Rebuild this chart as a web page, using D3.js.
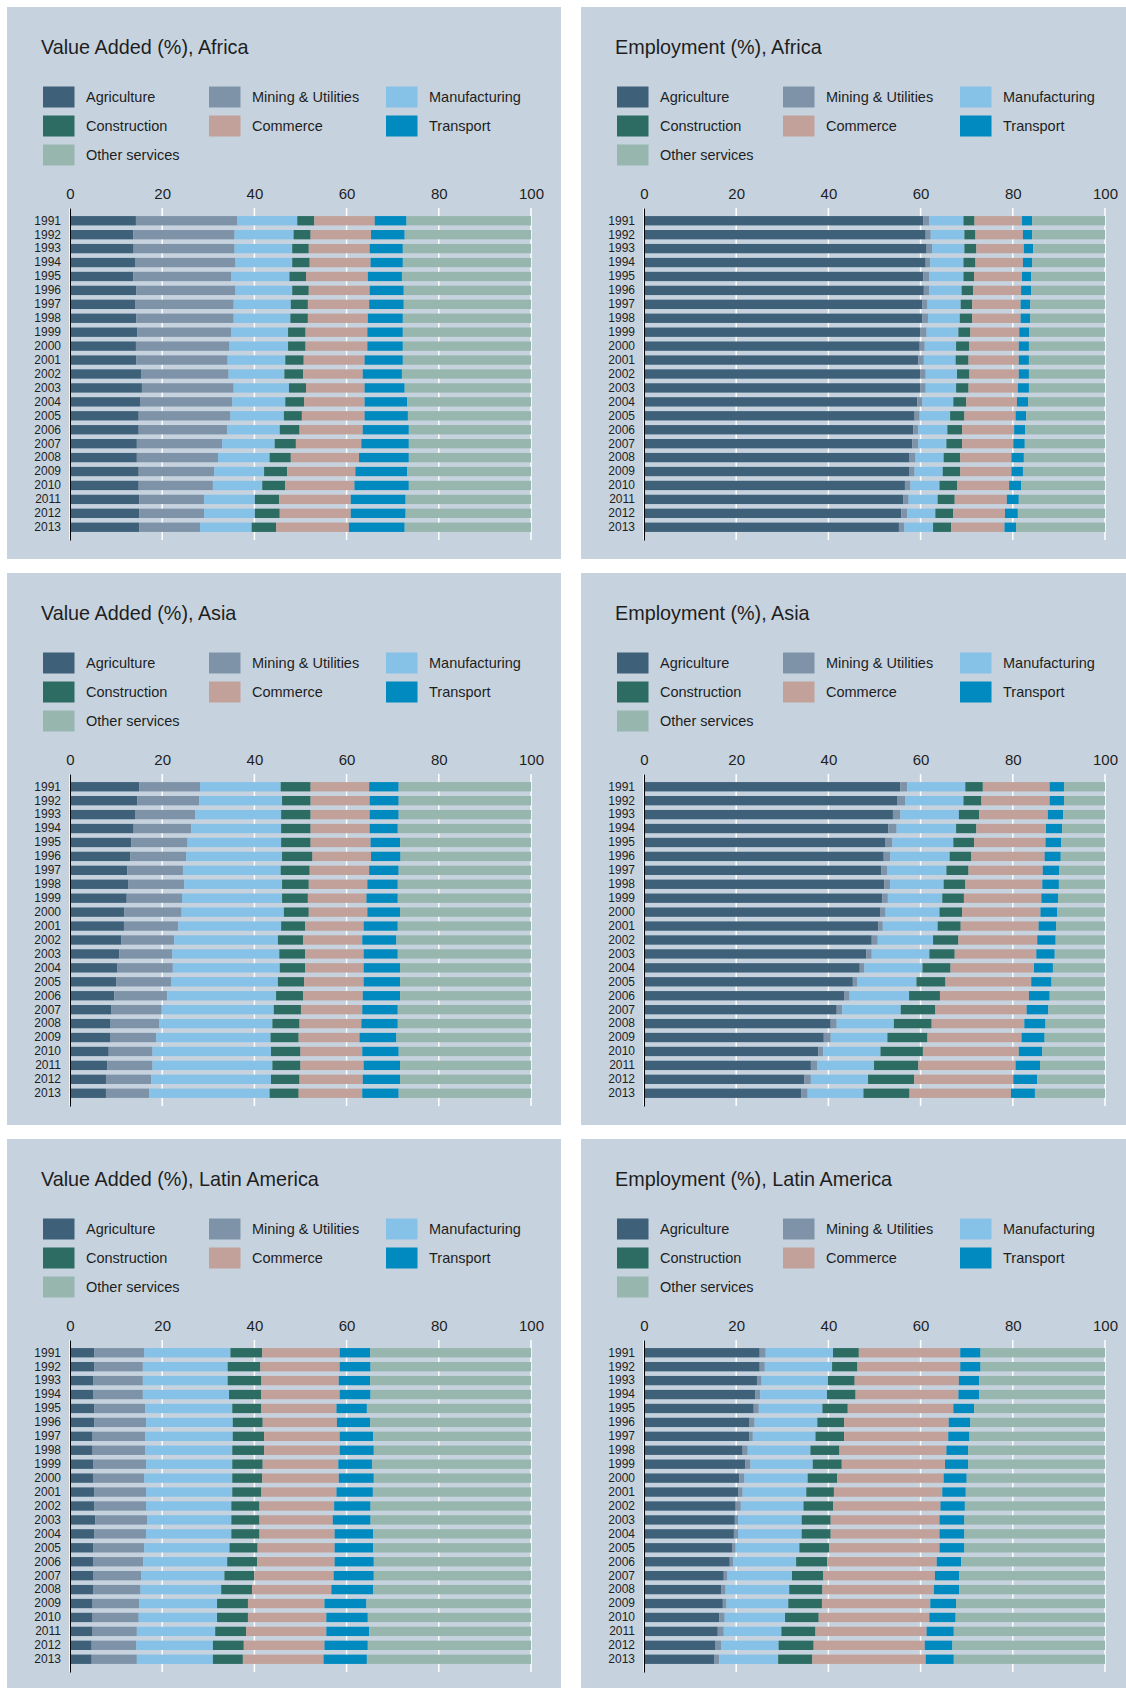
<!DOCTYPE html>
<html>
<head>
<meta charset="utf-8">
<script src="https://cdn.jsdelivr.net/npm/d3@7"></script>
<style>
body { margin: 0; background: #fff; }
svg { display: block; font-family: "Liberation Sans", Arial, sans-serif; }
</style>
</head>
<body>
<div id="chart"></div>
<script>
// Categories
var years = [1991, 1992, 1993, 1994, 1995, 1996, 1997, 1998, 1999, 2000, 2001, 2002,
             2003, 2004, 2005, 2006, 2007, 2008, 2009, 2010, 2011, 2012, 2013];
var sectors = ["Agriculture", "Mining & Utilities", "Manufacturing", "Construction",
               "Commerce", "Transport", "Other services"];
var xTicks = [0, 20, 40, 60, 80, 100];

// Shares (%) per year, one row per year, columns in the order of `sectors`
var vaAfrica = [
  [14.3, 22.0, 13.0, 3.7, 13.1, 6.9, 27.0],
  [13.7, 22.0, 12.8, 3.7, 13.1, 7.3, 27.4],
  [13.8, 21.9, 12.5, 3.6, 13.2, 7.2, 27.8],
  [14.1, 21.8, 12.3, 3.8, 13.2, 7.0, 27.8],
  [13.7, 21.3, 12.6, 3.6, 13.4, 7.4, 28.0],
  [14.4, 21.5, 12.3, 3.6, 13.2, 7.4, 27.6],
  [14.1, 21.4, 12.4, 3.7, 13.3, 7.5, 27.6],
  [14.4, 21.1, 12.3, 3.8, 13.0, 7.6, 27.8],
  [14.6, 20.4, 12.3, 3.8, 13.4, 7.7, 27.8],
  [14.3, 20.3, 12.7, 3.8, 13.4, 7.7, 27.8],
  [14.4, 19.8, 12.5, 4.0, 13.2, 8.3, 27.8],
  [15.5, 18.9, 12.1, 4.1, 12.9, 8.5, 28.0],
  [15.6, 19.9, 12.0, 3.7, 12.7, 8.7, 27.4],
  [15.3, 19.9, 11.5, 4.1, 13.1, 9.2, 26.9],
  [14.9, 19.9, 11.6, 3.9, 13.6, 9.4, 26.7],
  [14.9, 19.2, 11.4, 4.3, 13.7, 10.0, 26.5],
  [14.5, 18.5, 11.4, 4.6, 14.2, 10.3, 26.5],
  [14.5, 17.6, 11.2, 4.6, 14.8, 10.8, 26.5],
  [14.9, 16.4, 10.8, 5.0, 14.8, 11.2, 26.9],
  [14.9, 16.1, 10.7, 5.0, 15.0, 11.8, 26.5],
  [15.0, 14.1, 11.0, 5.3, 15.5, 11.9, 27.2],
  [15.0, 14.1, 11.0, 5.4, 15.4, 11.9, 27.2],
  [15.0, 13.2, 11.2, 5.3, 15.8, 12.1, 27.4]
];

var empAfrica = [
  [60.6, 1.3, 7.4, 2.4, 10.3, 2.2, 15.8],
  [61.1, 1.1, 7.3, 2.4, 10.3, 2.0, 15.8],
  [61.3, 1.2, 7.0, 2.6, 10.3, 2.0, 15.6],
  [61.1, 1.0, 7.2, 2.6, 10.3, 2.0, 15.8],
  [60.6, 1.3, 7.4, 2.3, 10.4, 2.0, 16.0],
  [60.7, 1.2, 7.0, 2.5, 10.4, 2.2, 16.0],
  [60.4, 1.1, 7.2, 2.5, 10.5, 2.1, 16.2],
  [60.4, 1.2, 6.9, 2.7, 10.5, 2.1, 16.2],
  [60.0, 1.3, 6.9, 2.6, 10.6, 2.2, 16.4],
  [59.8, 1.1, 6.8, 2.8, 10.8, 2.2, 16.5],
  [59.5, 1.2, 6.9, 2.8, 10.9, 2.2, 16.5],
  [60.0, 1.1, 6.8, 2.7, 10.7, 2.2, 16.5],
  [60.0, 1.1, 6.6, 2.7, 10.7, 2.4, 16.5],
  [59.3, 1.1, 6.7, 2.8, 11.0, 2.4, 16.7],
  [58.7, 1.1, 6.6, 3.1, 11.1, 2.3, 17.1],
  [58.4, 1.1, 6.3, 3.2, 11.3, 2.4, 17.3],
  [58.2, 1.3, 6.1, 3.4, 11.1, 2.5, 17.4],
  [57.6, 1.3, 6.1, 3.6, 11.1, 2.7, 17.6],
  [57.6, 1.1, 6.1, 3.8, 11.1, 2.5, 17.8],
  [56.6, 1.2, 6.3, 3.8, 11.3, 2.6, 18.2],
  [56.2, 1.2, 6.3, 3.7, 11.3, 2.6, 18.7],
  [55.8, 1.3, 6.1, 3.9, 11.2, 2.8, 18.9],
  [55.3, 1.2, 6.2, 3.9, 11.6, 2.5, 19.3]
];

var vaAsia = [
  [15.0, 13.2, 17.5, 6.5, 12.7, 6.4, 28.7],
  [14.6, 13.4, 18.0, 6.2, 12.8, 6.3, 28.7],
  [14.1, 13.1, 18.6, 6.4, 12.8, 6.3, 28.7],
  [13.8, 12.5, 19.5, 6.4, 12.8, 6.1, 28.9],
  [13.3, 12.2, 20.3, 6.4, 13.0, 6.4, 28.4],
  [13.1, 12.1, 20.8, 6.6, 12.7, 6.4, 28.3],
  [12.4, 12.1, 21.2, 6.3, 12.9, 6.4, 28.7],
  [12.6, 12.2, 21.2, 5.8, 12.7, 6.6, 28.9],
  [12.3, 12.0, 21.7, 5.6, 12.7, 6.8, 28.9],
  [11.8, 12.4, 22.2, 5.4, 12.7, 7.1, 28.4],
  [11.7, 11.8, 22.3, 5.2, 12.7, 7.4, 28.9],
  [11.1, 11.5, 22.5, 5.5, 12.8, 7.4, 29.2],
  [10.7, 11.5, 23.2, 5.6, 12.7, 7.4, 28.9],
  [10.3, 12.0, 23.2, 5.5, 12.7, 7.9, 28.4],
  [10.0, 12.0, 23.1, 5.7, 12.9, 7.9, 28.4],
  [9.6, 11.5, 23.6, 5.9, 12.9, 8.1, 28.4],
  [9.0, 10.9, 24.3, 5.9, 13.3, 7.7, 28.9],
  [8.8, 10.6, 24.5, 5.9, 13.4, 7.9, 28.9],
  [8.8, 9.9, 24.8, 6.1, 13.2, 8.0, 29.2],
  [8.4, 9.5, 25.7, 6.4, 13.4, 7.9, 28.7],
  [8.1, 9.8, 26.0, 6.1, 13.7, 7.9, 28.4],
  [7.8, 9.8, 26.0, 6.2, 13.7, 8.1, 28.4],
  [7.8, 9.4, 26.1, 6.3, 13.8, 7.9, 28.7]
];

var empAsia = [
  [55.6, 1.5, 12.6, 3.8, 14.5, 3.1, 8.9],
  [55.0, 1.7, 12.6, 3.9, 14.8, 3.1, 8.9],
  [54.0, 1.6, 12.7, 4.4, 14.9, 3.3, 9.1],
  [53.0, 1.8, 12.9, 4.4, 15.1, 3.5, 9.3],
  [52.4, 1.5, 13.2, 4.5, 15.5, 3.4, 9.5],
  [52.0, 1.4, 12.9, 4.7, 15.9, 3.5, 9.6],
  [51.5, 1.3, 12.8, 4.8, 16.1, 3.6, 9.9],
  [52.1, 1.3, 11.6, 4.7, 16.7, 3.6, 10.0],
  [51.7, 1.2, 11.8, 4.7, 16.8, 3.6, 10.2],
  [51.3, 1.1, 11.7, 4.9, 17.0, 3.6, 10.4],
  [50.8, 1.0, 11.9, 5.0, 16.9, 3.8, 10.6],
  [49.4, 1.3, 12.0, 5.5, 17.1, 4.0, 10.7],
  [48.2, 1.2, 12.5, 5.5, 17.7, 4.0, 10.9],
  [46.8, 1.0, 12.6, 6.1, 18.1, 4.1, 11.3],
  [45.3, 1.0, 12.8, 6.3, 18.6, 4.4, 11.6],
  [43.4, 1.2, 12.9, 6.7, 19.3, 4.5, 12.0],
  [41.8, 1.2, 12.7, 7.5, 19.8, 4.7, 12.3],
  [40.5, 1.3, 12.4, 8.2, 20.1, 4.6, 12.9],
  [39.0, 1.5, 12.3, 8.7, 20.4, 5.0, 13.1],
  [37.8, 1.1, 12.4, 9.2, 20.8, 5.1, 13.6],
  [36.2, 1.4, 12.3, 9.6, 21.1, 5.3, 14.1],
  [34.8, 1.4, 12.4, 10.0, 21.5, 5.2, 14.7],
  [34.1, 1.4, 12.1, 10.0, 22.0, 5.2, 15.2]
];

var vaLatAm = [
  [5.3, 10.8, 18.7, 6.9, 16.8, 6.6, 34.9],
  [5.3, 10.5, 18.4, 7.1, 17.2, 6.7, 34.8],
  [5.1, 10.7, 18.4, 7.3, 16.8, 6.8, 34.9],
  [5.1, 10.7, 18.7, 7.0, 17.0, 6.7, 34.8],
  [5.3, 11.0, 18.9, 6.3, 16.3, 6.6, 35.6],
  [5.3, 11.2, 18.8, 6.5, 16.1, 7.2, 34.9],
  [4.9, 11.4, 19.0, 6.8, 16.4, 7.3, 34.2],
  [4.9, 11.4, 18.9, 6.9, 16.4, 7.4, 34.1],
  [5.1, 11.4, 18.7, 6.6, 16.4, 7.3, 34.5],
  [5.1, 11.0, 19.1, 6.5, 16.6, 7.6, 34.1],
  [5.3, 11.2, 18.7, 6.3, 16.3, 7.9, 34.3],
  [5.3, 11.2, 18.5, 6.1, 16.2, 7.9, 34.8],
  [5.5, 11.2, 18.3, 6.1, 15.9, 8.2, 34.8],
  [5.3, 11.2, 18.5, 6.1, 16.3, 8.4, 34.2],
  [5.1, 11.0, 18.5, 6.1, 16.7, 8.4, 34.2],
  [5.1, 10.8, 18.2, 6.5, 16.8, 8.5, 34.1],
  [5.1, 10.3, 18.1, 6.5, 17.2, 8.7, 34.1],
  [5.1, 10.2, 17.5, 6.7, 17.2, 9.1, 34.2],
  [4.9, 10.1, 16.9, 6.7, 16.6, 9.1, 35.7],
  [4.9, 10.0, 17.0, 6.7, 17.0, 9.0, 35.4],
  [4.9, 9.6, 17.0, 6.7, 17.4, 9.3, 35.1],
  [4.7, 9.7, 16.6, 6.7, 17.5, 9.4, 35.4],
  [4.7, 9.8, 16.5, 6.5, 17.5, 9.4, 35.6]
];

var empLatAm = [
  [25.1, 1.3, 14.6, 5.6, 22.0, 4.4, 27.0],
  [25.1, 1.1, 14.6, 5.5, 22.3, 4.4, 27.0],
  [24.5, 1.0, 14.4, 5.8, 22.6, 4.4, 27.3],
  [24.1, 1.1, 14.5, 6.2, 22.3, 4.5, 27.3],
  [23.8, 1.1, 13.8, 5.5, 22.9, 4.5, 28.4],
  [22.9, 1.1, 13.6, 5.8, 22.7, 4.7, 29.2],
  [22.8, 0.8, 13.6, 6.2, 22.6, 4.6, 29.4],
  [21.4, 1.1, 13.6, 6.3, 23.2, 4.7, 29.7],
  [22.0, 1.1, 13.5, 6.3, 22.4, 5.0, 29.7],
  [20.7, 1.1, 13.7, 6.4, 23.1, 5.0, 30.0],
  [20.5, 0.9, 13.8, 6.0, 23.5, 5.1, 30.2],
  [19.9, 1.1, 13.6, 6.4, 23.3, 5.3, 30.4],
  [19.7, 0.7, 13.8, 6.3, 23.6, 5.4, 30.5],
  [19.5, 0.9, 13.8, 6.3, 23.6, 5.4, 30.5],
  [19.1, 0.8, 13.8, 6.5, 23.9, 5.4, 30.5],
  [18.6, 0.8, 13.6, 6.7, 23.8, 5.3, 31.2],
  [17.3, 0.8, 14.0, 6.8, 24.2, 5.3, 31.6],
  [16.8, 0.9, 13.8, 7.2, 24.2, 5.5, 31.6],
  [17.1, 0.8, 13.4, 7.3, 23.5, 5.6, 32.3],
  [16.3, 1.2, 13.1, 7.3, 24.0, 5.7, 32.4],
  [16.0, 1.3, 12.5, 7.4, 24.1, 5.9, 32.8],
  [15.4, 1.3, 12.5, 7.6, 24.1, 6.0, 33.1],
  [15.3, 1.0, 12.8, 7.4, 24.6, 6.1, 32.8]
];

var titles = ["Value Added (%), Africa", "Employment (%), Africa",
              "Value Added (%), Asia", "Employment (%), Asia",
              "Value Added (%), Latin America", "Employment (%), Latin America"];
var panelData = [vaAfrica, empAfrica, vaAsia, empAsia, vaLatAm, empLatAm];

var colors = ["#3e6079", "#7f93a8", "#86c1e8", "#2d6c62", "#c1a19a", "#008abf", "#97b6ae"];

// Page and panel layout
var W = 1126, H = 1688;
var panelW = 554, panelH = 552;
var panelX = [7, 581], panelY = [7, 573, 1139];

var svg = d3.select("#chart").append("svg")
    .attr("width", W)
    .attr("height", H);

// Scales shared by every panel (panel-local coordinates)
var x = d3.scaleLinear().domain([0, 100]).range([63, 524]);
var y = d3.scaleBand().domain(years).range([201, 533])
    .paddingInner(0.33).paddingOuter(0.58);

var stack = d3.stack().keys(d3.range(sectors.length));

panelData.forEach(function(rows, i) {
    var g = svg.append("g")
        .attr("transform", "translate(" + panelX[i % 2] + "," + panelY[Math.floor(i / 2)] + ")");

    // Panel background
    g.append("rect")
        .attr("width", panelW)
        .attr("height", panelH)
        .attr("fill", "#c6d3df");

    // Title
    g.append("text")
        .attr("x", 34)
        .attr("y", 47)
        .attr("fill", "#1e1e1e")
        .style("font-size", "19.8px")
        .text(titles[i]);

    // Legend, three columns
    var legend = g.append("g").selectAll("g")
        .data(sectors)
        .join("g")
        .attr("transform", function(d, k) {
            var colX = [36, 202, 379][k % 3];
            var rowY = 90 + Math.floor(k / 3) * 29;
            return "translate(" + colX + "," + rowY + ")";
        });
    legend.append("rect")
        .attr("y", -10.5)
        .attr("width", 31.5)
        .attr("height", 21)
        .attr("fill", function(d, k) { return colors[k]; });
    legend.append("text")
        .attr("x", 43)
        .attr("dy", "0.35em")
        .attr("fill", "#1e1e1e")
        .style("font-size", "14.5px")
        .text(function(d) { return d; });

    // White gridlines behind the bars
    g.append("g").selectAll("line")
        .data(xTicks)
        .join("line")
        .attr("x1", function(d) { return x(d); })
        .attr("x2", function(d) { return x(d); })
        .attr("y1", y.range()[0])
        .attr("y2", y.range()[1])
        .attr("stroke", "#fff")
        .attr("stroke-width", 1.5);

    // Stacked bars
    var series = stack(rows);
    g.append("g").selectAll("g")
        .data(series)
        .join("g")
        .attr("fill", function(d, k) { return colors[k]; })
        .selectAll("rect")
        .data(function(d) { return d; })
        .join("rect")
        .attr("x", function(d) { return x(d[0]); })
        .attr("y", function(d, j) { return y(years[j]); })
        .attr("width", function(d) { return x(d[1]) - x(d[0]); })
        .attr("height", y.bandwidth());

    // Top axis (tick labels only)
    var xAxis = g.append("g")
        .attr("transform", "translate(0,196)")
        .call(d3.axisTop(x).tickValues(xTicks).tickSize(0).tickPadding(4));
    xAxis.select(".domain").remove();
    xAxis.selectAll("text")
        .attr("fill", "#1e1e1e")
        .style("font-size", "15px")
        .style("font-family", "'Liberation Sans', Arial, sans-serif");

    // Left axis with year labels
    var yAxis = g.append("g")
        .attr("transform", "translate(" + x(0) + ",0)")
        .call(d3.axisLeft(y).tickSize(0).tickSizeOuter(0).tickPadding(9));
    yAxis.select(".domain").attr("stroke", "#000").attr("stroke-width", 1);
    yAxis.selectAll("text")
        .attr("fill", "#1e1e1e")
        .style("font-size", "12px")
        .style("font-family", "'Liberation Sans', Arial, sans-serif");
});
</script>
</body>
</html>
